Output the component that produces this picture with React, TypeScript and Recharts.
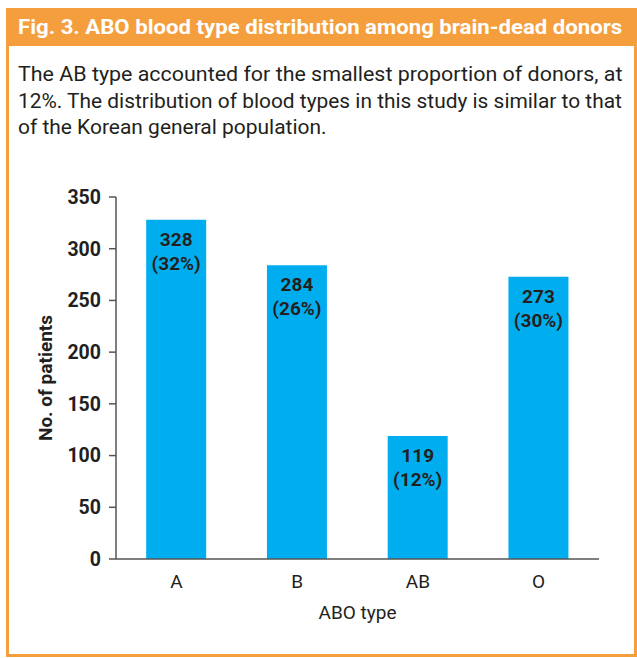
import React, { useLayoutEffect, useRef, useState } from "react";
import { BarChart, Bar, XAxis, YAxis, LabelList } from "recharts";

const categories = ["A", "B", "AB", "O"];
const counts = [328, 284, 119, 273];
const percents = ["32%", "26%", "12%", "30%"];
const yTicks = [0, 50, 100, 150, 200, 250, 300, 350];

const titleText = "Fig. 3. ABO blood type distribution among brain-dead donors";
const bodyLines = [
  "The AB type accounted for the smallest proportion of donors, at",
  "12%. The distribution of blood types in this study is similar to that",
  "of the Korean general population.",
];
const bodyWidths = [604, 604, 309];

const data = categories.map((c, i) => ({ type: c, count: counts[i], pct: percents[i] }));

const FONT = "Roboto, 'Open Sans', 'Liberation Sans', sans-serif";
const ORANGE = "#F59E3D";
const TEXT = "#231F20";

function FitText({ text, width, style }: { text: string; width: number; style: React.CSSProperties }) {
  const ref = useRef<HTMLSpanElement>(null);
  const [sx, setSx] = useState(1);
  useLayoutEffect(() => {
    if (ref.current) {
      const w = ref.current.offsetWidth;
      if (w > 0) setSx(width / w);
    }
  }, [text, width]);
  return (
    <span
      ref={ref}
      style={{
        ...style,
        display: "inline-block",
        whiteSpace: "pre",
        transform: `scaleX(${sx})`,
        transformOrigin: "left center",
      }}
    >
      {text}
    </span>
  );
}

const BarLabel = (props: any) => {
  const { x, y, width, index } = props;
  const cx = x + width / 2;
  return (
    <g>
      <text x={cx} y={y + 26} textAnchor="middle" fontFamily={FONT} fontWeight="bold" fontSize={19} fill={TEXT}>
        {counts[index]}
      </text>
      <text x={cx} y={y + 50} textAnchor="middle" fontFamily={FONT} fontWeight="bold" fontSize={19} fill={TEXT}>
        ({percents[index]})
      </text>
    </g>
  );
};

export default function App() {
  return (
    <div style={{ position: "absolute", left: 0, top: 0, width: 637, height: 658, background: "#fff", fontFamily: FONT }}>
      <div
        style={{
          position: "absolute",
          left: 6,
          top: 8,
          width: 631,
          height: 649,
          boxSizing: "border-box",
          border: `3px solid ${ORANGE}`,
        }}
      />
      <div
        style={{
          position: "absolute",
          left: 6,
          top: 8,
          width: 631,
          height: 38,
          background: ORANGE,
          color: "#fff",
          lineHeight: "38px",
          paddingLeft: 12,
          boxSizing: "border-box",
          whiteSpace: "nowrap",
          overflow: "hidden",
        }}
      >
        <FitText text={titleText} width={604} style={{ fontWeight: "bold", fontSize: 21 }} />
      </div>
      {bodyLines.map((line, i) => (
        <div
          key={i}
          style={{
            position: "absolute",
            left: 18,
            top: 61 + i * 26.5,
            lineHeight: "26.5px",
            color: TEXT,
            whiteSpace: "nowrap",
          }}
        >
          <FitText text={line} width={bodyWidths[i]} style={{ fontSize: 20 }} />
        </div>
      ))}
      <div style={{ position: "absolute", left: 0, top: 0 }}>
        <BarChart
          width={637}
          height={658}
          data={data}
          margin={{ top: 197, right: 38, bottom: 69, left: 56 }}
          barCategoryGap="25%"
        >
          <XAxis
            dataKey="type"
            axisLine={{ stroke: "#555", strokeWidth: 1.5 }}
            tickLine={false}
            tick={{ fill: TEXT, fontSize: 19, fontFamily: FONT }}
            tickMargin={10}
            height={30}
            label={{ value: "ABO type", position: "insideBottom", offset: -30, fill: TEXT, fontSize: 19, fontFamily: FONT }}
          />
          <YAxis
            domain={[0, 350]}
            ticks={yTicks}
            interval={0}
            width={60}
            axisLine={{ stroke: "#555", strokeWidth: 1.5 }}
            tickLine={{ stroke: "#555", strokeWidth: 1.5 }}
            tickSize={7}
            tickMargin={8}
            tick={{ fill: TEXT, fontSize: 19.5, fontWeight: "bold", fontFamily: FONT }}
            label={{
              value: "No. of patients",
              angle: -90,
              position: "insideLeft",
              offset: -11,
              style: { textAnchor: "middle" },
              fill: TEXT,
              fontSize: 19,
              fontWeight: "bold",
              fontFamily: FONT,
            }}
          />
          <Bar dataKey="count" fill="#00AEEF" isAnimationActive={false}>
            <LabelList dataKey="count" content={<BarLabel />} />
          </Bar>
        </BarChart>
      </div>
    </div>
  );
}
